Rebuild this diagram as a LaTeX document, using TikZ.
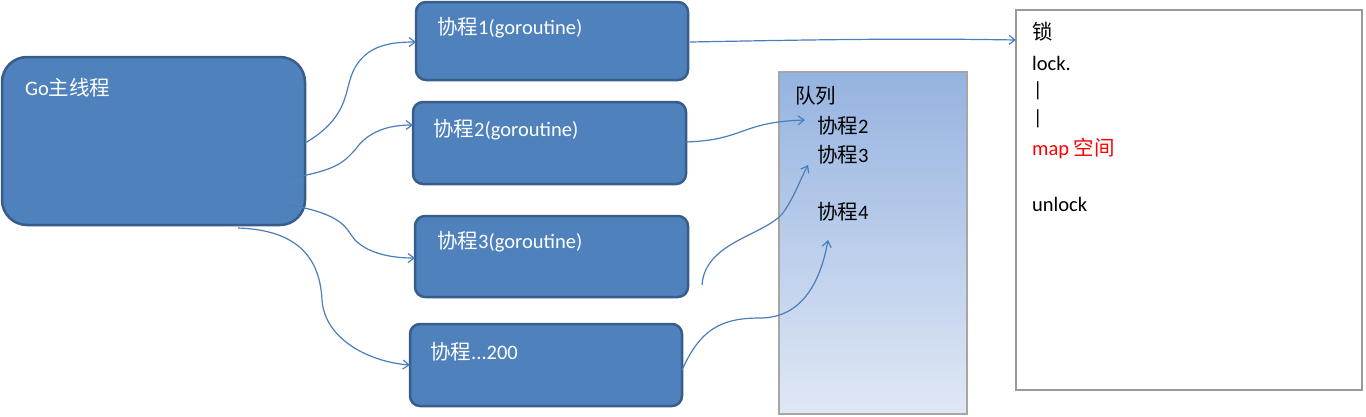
\documentclass[tikz,border=0pt]{standalone}
\usepackage{fontspec}
\usetikzlibrary{arrows.meta}
\setmainfont{Carlito}
\newfontfamily\cjk{Noto Sans CJK SC}
\begin{document}
\begin{tikzpicture}[x=1pt,y=-1pt,
 box/.style={draw={rgb,255:red,56;green,93;blue,138}, line width=2.5pt, fill={rgb,255:red,79;green,129;blue,189}, rounded corners=10pt},
 wt/.style={anchor=west, text=white, font=\fontsize{20.5}{23}\selectfont, inner sep=0pt},
 bt/.style={anchor=west, text=black, font=\fontsize{20.5}{23}\selectfont, inner sep=0pt},
 ar/.style={draw={rgb,255:red,74;green,126;blue,187}, line width=1.2pt, -{Straight Barb[length=6pt,width=9pt]}}]
\useasboundingbox (0,0) rectangle (1366,416);
\draw[box, rounded corners=25pt] (2,57) rectangle (305,225);
\node[wt] (m) at (25,88) {Go{\cjk 主线程}};
\draw[box] (416,2) rectangle (688,80); \node[wt] (c1) at (437,28) {{\cjk 协程}1(goroutine)};
\draw[box] (413,102) rectangle (686,184); \node[wt] (c2) at (433,130) {{\cjk 协程}2(goroutine)};
\draw[box] (415,216) rectangle (688,297); \node[wt] (c3) at (437,242) {{\cjk 协程}3(goroutine)};
\draw[box] (410,324) rectangle (682,406); \node[wt] (c4) at (430,352) {{\cjk 协程}...200};
\shade[top color={rgb,255:red,149;green,179;blue,224}, bottom color={rgb,255:red,224;green,232;blue,245}] (779,72) rectangle (967,414);
\draw[gray!70, line width=1.2pt] (779,72) rectangle (967,414);
\node[bt] (q) at (795,96) {\cjk 队列};
\node[bt] (q2) at (817,126) {{\cjk 协程}2};
\node[bt] (q3) at (817,155) {{\cjk 协程}3};
\node[bt] (q4) at (817,212) {{\cjk 协程}4};
\draw[gray!80, line width=1.2pt, fill=white] (1016,10) rectangle (1362,390);
\node[bt] (l0) at (1032,32) {\cjk 锁};
\node[bt] at (1032,63) {lock.};
\node[bt] at (1033,91) {|};
\node[bt] at (1033,119) {|};
\node[bt, text=red] at (1032,148) {map {\cjk 空间}};
\node[bt] at (1032,204) {unlock};
\coordinate (a1) at (305,143); \coordinate (b1) at (416,42);
\coordinate (a2) at (290,178); \coordinate (b2) at (413,125);
\coordinate (a3) at (290,205); \coordinate (b3) at (415,258);
\coordinate (a4) at (238,228); \coordinate (b4) at (410,365);
\coordinate (a5) at (690,42); \coordinate (b5) at (1016,40);
\coordinate (a6) at (686,142); \coordinate (b6) at (805,120);
\coordinate (a7) at (702,285); \coordinate (b7) at (808,165);
\coordinate (a8) at (682,370); \coordinate (b8) at (828,240);
\draw[ar] (a1) .. controls (345,120) and (345,95) .. (350,80) .. controls (360,45) and (390,42) .. (b1);
\draw[ar] (a2) .. controls (340,170) and (345,160) .. (355,150) .. controls (370,128) and (395,125) .. (b2);
\draw[ar] (a3) .. controls (345,215) and (345,228) .. (355,240) .. controls (370,255) and (395,258) .. (b3);
\draw[ar] (a4) .. controls (300,230) and (320,260) .. (322,300) .. controls (325,340) and (370,362) .. (b4);
\draw[ar] (a5) .. controls (800,40) and (900,38) .. (b5);
\draw[ar] (a6) .. controls (745,140) and (740,122) .. (b6);
\draw[ar] (a7) .. controls (705,240) and (770,235) .. (785,210) .. controls (795,195) and (800,180) .. (b7);
\draw[ar] (a8) .. controls (700,330) and (720,318) .. (760,318) .. controls (800,318) and (820,285) .. (b8);
\end{tikzpicture}
\end{document}
